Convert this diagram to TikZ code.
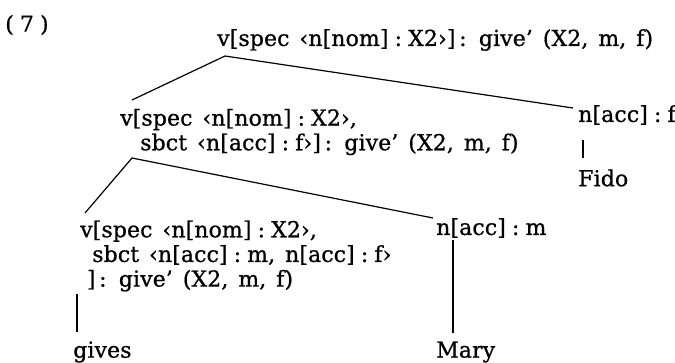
\documentclass[tikz,border=0pt]{standalone}
\usepackage{fontspec}
\setmainfont{DejaVu Serif}[WordSpace=1.4, LetterSpace=0.5, FakeBold=0.8]
\usetikzlibrary{calc}

\begin{document}
\begin{tikzpicture}[
            x=0.75pt, y=-0.75pt,
            featNode/.style={anchor=west, inner sep=0pt, align=left,
            font=\fontsize{16.5}{18.5}\selectfont},
            wordNode/.style={anchor=west, inner sep=0pt,
            font=\fontsize{16.5}{18.5}\selectfont},
            branch/.style={line width=0.9pt},
        ]
        \useasboundingbox (0,0) rectangle (675,362);
        \node[wordNode] (exNum) at (5,25) {(\;7\;)};
        \node[featNode] (vRoot) at (217,40) {v[spec ‹n[nom]\;:\;X2›]\,: give’ (X2, m, f)};
        \node[featNode] (vMid)  at (120,132) {v[spec ‹n[nom]\;:\;X2›,\\\hspace*{15pt}sbct ‹n[acc]\;:\;f›]\,: give’ (X2, m, f)};
        \node[featNode] (nAccF) at (578,115) {n[acc]\;:\;f};
        \node[wordNode] (fido)  at (578,178) {Fido};
        \node[featNode] (vLow)  at (80,256) {v[spec ‹n[nom]\;:\;X2›,\\\hspace*{9pt}sbct ‹n[acc]\;:\;m, n[acc]\;:\;f›\\\hspace*{5pt}]\,: give’ (X2, m, f)};
        \node[featNode] (nAccM) at (436,228) {n[acc]\;:\;m};
        \node[wordNode] (gives) at (73,352) {gives};
        \node[wordNode] (mary)  at (436,352) {Mary};
        % branching points under the mother nodes
        \coordinate (rootFoot) at ($(vRoot.west)+(8,16)$);
        \coordinate (midFoot)  at ($(vMid.west)+(12,26)$);
        \draw[branch] ($(vMid.west)+(12,-32)$) -- (rootFoot) -- ($(nAccF.west)+(-5,-7)$);
        \draw[branch] ($(vLow.west)+(5,-43)$) -- (midFoot) -- ($(nAccM.west)+(-3,-10)$);
        \draw[branch] ($(nAccF.west)+(5,25)$) -- ($(fido.west)+(5,-20)$);
        \draw[branch] ($(vLow.west)+(-3,38)$) -- ($(gives.west)+(4,-20)$);
        \draw[branch] ($(nAccM.west)+(17,12)$) -- ($(mary.west)+(17,-19)$);
    \end{tikzpicture}
\end{document}
